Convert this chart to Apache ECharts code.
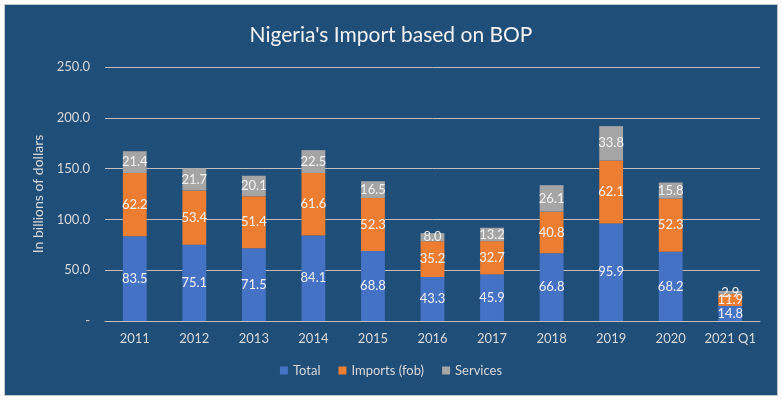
<!DOCTYPE html>
<html>
<head>
<meta charset="utf-8">
<script src="https://cdn.jsdelivr.net/npm/echarts@6/dist/echarts.min.js"></script>
<style>
    html, body { margin: 0; padding: 0; background: #fff; }
    #main {
        position: absolute; left: 4px; top: 4px;
        width: 774px; height: 392px;
        box-sizing: border-box;
        border: 1px solid #c8c8c8;
        background: #1F4E79;
    }
</style>
</head>
<body>
<div id="main"></div>
<script>
    var categories = ['2011', '2012', '2013', '2014', '2015', '2016', '2017', '2018', '2019', '2020', '2021 Q1'];
    var totalValues = [83.5, 75.1, 71.5, 84.1, 68.8, 43.3, 45.9, 66.8, 95.9, 68.2, 14.8];
    var importsValues = [62.2, 53.4, 51.4, 61.6, 52.3, 35.2, 32.7, 40.8, 62.1, 52.3, 11.9];
    var servicesValues = [21.4, 21.7, 20.1, 22.5, 16.5, 8.0, 13.2, 26.1, 33.8, 15.8, 2.9];

    var fontName = 'Lato, "Liberation Sans", sans-serif';
    var textColor = '#d9d9d9';

    function makeSeries(name, data, color) {
        return {
            name: name,
            type: 'bar',
            stack: 'all',
            barWidth: '40%',
            data: data,
            itemStyle: { color: color },
            label: {
                show: true,
                position: 'inside',
                color: '#f2f2f2',
                fontFamily: fontName,
                fontSize: 13,
                formatter: function (p) { return p.value.toFixed(1); }
            }
        };
    }

    var myChart = echarts.init(document.getElementById('main'));

    var option = {
        animation: false,
        title: {
            text: "Nigeria's Import based on BOP",
            left: 'center',
            top: 15,
            textStyle: { color: '#f2f2f2', fontFamily: fontName, fontSize: 21, fontWeight: 'normal' }
        },
        legend: {
            bottom: 13,
            left: 'center',
            itemWidth: 8,
            itemHeight: 8,
            itemGap: 18,
            icon: 'rect',
            textStyle: { color: textColor, fontFamily: fontName, fontSize: 13 },
            data: ['Total', 'Imports (fob)', 'Services']
        },
        grid: { left: 100, top: 62, width: 655, height: 254 },
        xAxis: {
            type: 'category',
            data: categories,
            axisLine: { lineStyle: { color: '#bfbfbf' } },
            axisTick: { show: false },
            axisLabel: { interval: 0, color: textColor, fontFamily: fontName, fontSize: 13, margin: 11 }
        },
        yAxis: {
            type: 'value',
            min: 0,
            max: 250,
            interval: 50,
            name: 'In billions of dollars',
            nameLocation: 'middle',
            nameGap: 58,
            nameTextStyle: { color: textColor, fontFamily: fontName, fontSize: 14 },
            axisLine: { show: false },
            axisTick: { show: false },
            splitLine: { lineStyle: { color: '#bfbfbf' } },
            axisLabel: {
                color: textColor, fontFamily: fontName, fontSize: 13, margin: 15,
                formatter: function (v) { return v === 0 ? '-' : v.toFixed(1); }
            }
        },
        series: [
            makeSeries('Total', totalValues, '#4472C4'),
            makeSeries('Imports (fob)', importsValues, '#ED7D31'),
            makeSeries('Services', servicesValues, '#A5A5A5')
        ]
    };
    myChart.setOption(option);
</script>
</body>
</html>
